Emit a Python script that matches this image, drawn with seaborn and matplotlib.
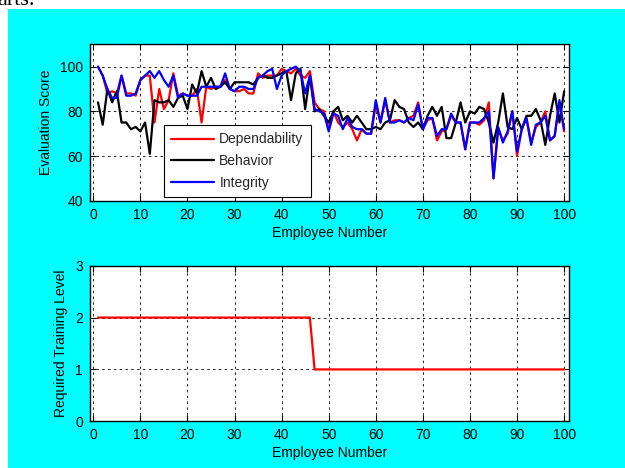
import matplotlib
matplotlib.use("Agg")
import matplotlib.pyplot as plt
import numpy as np
import pandas as pd
import seaborn as sns
from matplotlib.patches import Rectangle

employees = list(range(1, 101))
dependability = [100, 96, 88, 89, 88, 96, 88, 88, 87, 94,
                 96, 96, 75, 90, 81, 85, 97, 87, 88, 87,
                 87, 90, 75, 91, 90, 91, 91, 94, 90, 89,
                 89, 90, 88, 88, 97, 95, 96, 96, 96, 99,
                 98, 97, 99, 96, 95, 98, 84, 81, 80, 72,
                 80, 75, 73, 75, 72, 67, 72, 70, 70, 83,
                 75, 85, 75, 76, 76, 75, 77, 78, 84, 72,
                 76, 77, 67, 71, 72, 78, 75, 75, 63, 75,
                 75, 74, 76, 84, 50, 72, 67, 70, 80, 60,
                 72, 77, 66, 73, 75, 80, 67, 69, 84, 71]
behavior = [84, 74, 90, 84, 89, 75, 75, 72, 73, 71,
            75, 61, 85, 84, 84, 85, 82, 86, 87, 81,
            92, 88, 98, 91, 95, 90, 91, 93, 90, 93,
            93, 93, 93, 92, 95, 96, 95, 95, 96, 97,
            98, 85, 97, 99, 81, 96, 80, 81, 78, 75,
            80, 82, 76, 78, 75, 78, 75, 72, 72, 73,
            72, 75, 76, 85, 82, 81, 75, 73, 75, 72,
            78, 82, 78, 82, 68, 68, 75, 84, 75, 80,
            79, 82, 81, 75, 66, 75, 88, 73, 72, 77,
            72, 78, 78, 81, 76, 65, 78, 88, 75, 89]
integrity = [100, 96, 90, 86, 86, 96, 87, 87, 88, 94,
             96, 98, 95, 98, 94, 91, 96, 86, 88, 87,
             87, 87, 91, 91, 91, 91, 91, 97, 90, 89,
             91, 91, 90, 90, 95, 96, 98, 99, 90, 96,
             98, 99, 100, 98, 88, 96, 81, 80, 79, 71,
             79, 78, 72, 77, 73, 72, 72, 70, 70, 85,
             75, 86, 75, 75, 76, 75, 77, 76, 83, 72,
             77, 77, 69, 72, 72, 79, 75, 75, 63, 75,
             75, 75, 77, 80, 50, 73, 66, 71, 80, 62,
             72, 77, 65, 74, 75, 78, 67, 69, 85, 72]
training_level = [2] * 46 + [1] * 54

series_names = ["Dependability", "Behavior", "Integrity"]
series_colors = ["#FF0000", "#000000", "#0000FF"]

scores = pd.DataFrame({
    "Employee": employees * 3,
    "Score": dependability + behavior + integrity,
    "Metric": [n for n in series_names for _ in employees],
})
levels = pd.DataFrame({"Employee": employees, "Level": training_level})

sns.set_theme(style="white")
plt.rcParams['font.family'] = ['Liberation Sans', 'DejaVu Sans']

fig = plt.figure(figsize=(6.25, 4.68), dpi=100, facecolor="white")
fig.patches.append(Rectangle((8 / 625, 0), 1, 1 - 9 / 468, transform=fig.transFigure,
                             facecolor="#00FFFF", edgecolor="none", zorder=-10))
fig.text(-0.004, 1 - 5 / 468, "arts.", family=["Liberation Serif", "DejaVu Serif"],
         fontsize=16, va="baseline", ha="left", color="black")

ax1 = fig.add_axes([90 / 625, 1 - 200.7 / 468, 479.3 / 625, 156.4 / 468])
ax2 = fig.add_axes([90 / 625, 1 - 421.3 / 468, 479.3 / 625, 155.6 / 468])

sns.lineplot(data=scores, x="Employee", y="Score", hue="Metric",
             palette=dict(zip(series_names, series_colors)), hue_order=series_names,
             estimator=None, linewidth=1.6, ax=ax1)
sns.lineplot(data=levels, x="Employee", y="Level", color="#FF0000",
             estimator=None, linewidth=1.6, ax=ax2)

for ax in (ax1, ax2):
    ax.set_facecolor("white")
    for s in ax.spines.values():
        s.set_color("black")
        s.set_linewidth(1.0)
        s.set_visible(True)
    ax.set_xlim(-0.7, 101.1)
    ax.set_xticks([0, 10, 20, 30, 40, 50, 60, 70, 80, 90, 100])
    ax.tick_params(direction="in", length=4, width=0.8, colors="black",
                   labelsize=10, top=True, right=True, bottom=True, left=True,
                   pad=5)
    ax.grid(True, color="black", linestyle=(0, (3, 4)), linewidth=0.6)
    ax.set_axisbelow(True)
    ax.set_xlabel("Employee Number", fontsize=10, color="black", labelpad=3)

ax1.set_ylim(40, 110)
ax1.set_yticks([40, 60, 80, 100])
ax1.set_ylabel("Evaluation Score", fontsize=10, color="black", labelpad=5)
ax2.set_ylim(0, 3)
ax2.set_yticks([0, 1, 2, 3])
ax2.set_ylabel("Required Training Level", fontsize=10, color="black", labelpad=5)

handles, labels = ax1.get_legend_handles_labels()
leg = ax1.legend(handles, labels, loc="lower left", bbox_to_anchor=(0.154, 0.026),
                 fontsize=10, frameon=True, fancybox=False, framealpha=1,
                 edgecolor="black", handlelength=3.1, handletextpad=0.4,
                 labelspacing=0.55, borderpad=0.5, borderaxespad=0)
leg.get_frame().set_linewidth(0.8)

fig.savefig("out.png", dpi=100, facecolor=fig.get_facecolor())
